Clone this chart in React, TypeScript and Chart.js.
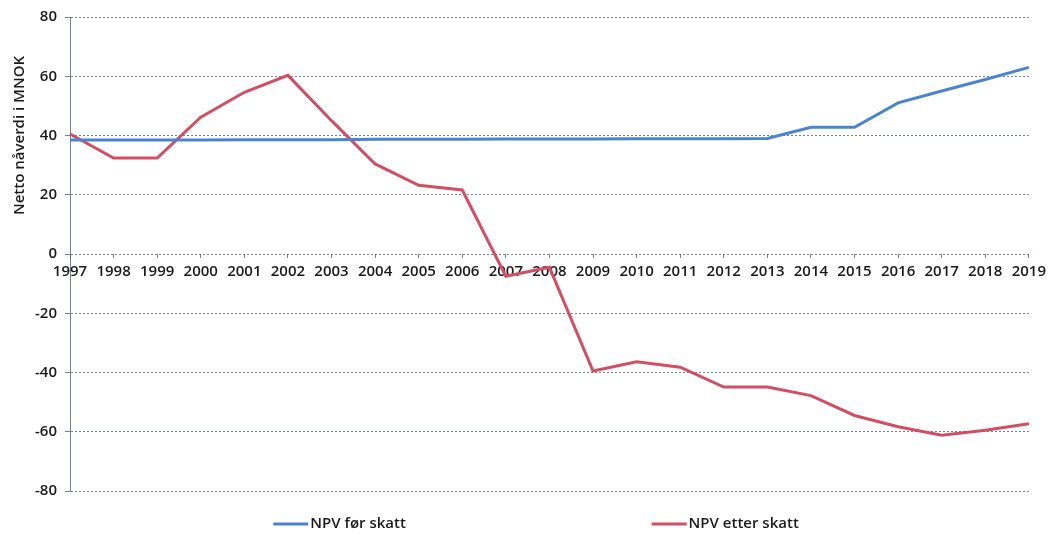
import React, { useEffect, useRef } from "react";
import { Chart, registerables } from "chart.js";

Chart.register(...registerables);

// Years on the category axis
const years: string[] = [
  "1997", "1998", "1999", "2000", "2001", "2002", "2003", "2004", "2005", "2006", "2007", "2008",
  "2009", "2010", "2011", "2012", "2013", "2014", "2015", "2016", "2017", "2018", "2019",
];

// Net present value before tax (MNOK)
const npvForSkatt: number[] = [
  38.5, 38.5, 38.5, 38.5, 38.6, 38.6, 38.6, 38.7, 38.7, 38.7, 38.8, 38.8,
  38.8, 38.9, 38.9, 38.9, 39.0, 42.8, 42.8, 51.0, 55.0, 58.9, 63.0,
];

// Net present value after tax (MNOK)
const npvEtterSkatt: number[] = [
  40.5, 32.4, 32.4, 46.2, 54.6, 60.3, 45.0, 30.4, 23.2, 21.6, -7.5, -4.5,
  -39.5, -36.4, -38.2, -44.9, -44.9, -47.8, -54.5, -58.3, -61.2, -59.5, -57.3,
];

const seriesLabels: string[] = ["NPV før skatt", "NPV etter skatt"];
const seriesColors: string[] = ["#4a84cc", "#d04f63"];

const yAxisTitle = "Netto nåverdi i MNOK";
const yMin = -80;
const yMax = 80;
const yStep = 20;

const FONT = "'Open Sans', 'Noto Sans', sans-serif";
const TEXT = "#1a1a1a";
const GRID = "rgba(85, 95, 120, 0.8)";

// Rotated axis title, placed in the upper part of the left margin
const yTitlePlugin = {
  id: "yTitle",
  afterDraw(chart: any) {
    const { ctx, chartArea } = chart;
    ctx.save();
    ctx.translate(20, chartArea.top + (chartArea.bottom - chartArea.top) * 0.25);
    ctx.rotate(-Math.PI / 2);
    ctx.font = `600 15px ${FONT}`;
    ctx.fillStyle = TEXT;
    ctx.textAlign = "center";
    ctx.textBaseline = "middle";
    ctx.fillText(yAxisTitle, 0, 0);
    ctx.restore();
  },
};

// Widely spaced legend below the plot
const spacedLegendPlugin = {
  id: "spacedLegend",
  afterDraw(chart: any) {
    const { ctx, width, height } = chart;
    const starts = [0.26, 0.62];
    const y = height - 11;
    ctx.save();
    chart.data.datasets.forEach((ds: any, i: number) => {
      const x = width * starts[i];
      ctx.strokeStyle = ds.borderColor;
      ctx.lineWidth = 3;
      ctx.beginPath();
      ctx.moveTo(x, y);
      ctx.lineTo(x + 35, y);
      ctx.stroke();
      ctx.font = `600 15px ${FONT}`;
      ctx.fillStyle = TEXT;
      ctx.textAlign = "left";
      ctx.textBaseline = "middle";
      ctx.fillText(ds.label, x + 37, y);
    });
    ctx.restore();
  },
};

export default function App() {
  const canvasRef = useRef<HTMLCanvasElement | null>(null);

  useEffect(() => {
    document.body.style.margin = "0";
    const canvas = canvasRef.current;
    if (!canvas) return;

    const chart = new Chart(canvas, {
      type: "line",
      data: {
        labels: years,
        datasets: [
          {
            label: seriesLabels[0],
            data: npvForSkatt,
            borderColor: seriesColors[0],
            backgroundColor: seriesColors[0],
            borderWidth: 3,
            pointRadius: 0,
            tension: 0,
          },
          {
            label: seriesLabels[1],
            data: npvEtterSkatt,
            borderColor: seriesColors[1],
            backgroundColor: seriesColors[1],
            borderWidth: 3,
            pointRadius: 0,
            tension: 0,
          },
        ],
      },
      options: {
        responsive: false,
        animation: false,
        layout: { padding: { left: 0, right: 21, top: 13, bottom: 44 } },
        plugins: {
          legend: { display: false },
          tooltip: { enabled: false },
        },
        scales: {
          x: {
            type: "category",
            offset: false,
            position: { y: 0 } as any,
            grid: {
              display: true,
              drawOnChartArea: false,
              drawTicks: true,
              tickLength: 4,
              color: GRID,
            },
            border: { display: false },
            ticks: {
              autoSkip: false,
              maxRotation: 0,
              padding: 5,
              color: TEXT,
              font: { family: FONT, size: 15, weight: 600 } as any,
            },
          },
          y: {
            min: yMin,
            max: yMax,
            afterFit(scale: any) {
              scale.width = 70;
            },
            grid: {
              color: GRID,
              lineWidth: 1,
              tickLength: 5,
              drawTicks: true,
            },
            border: { display: true, color: GRID, dash: [2, 2] },
            ticks: {
              stepSize: yStep,
              padding: 8,
              color: TEXT,
              font: { family: FONT, size: 15, weight: 600 } as any,
            },
          },
        },
      },
      plugins: [yTitlePlugin, spacedLegendPlugin],
    });

    // dashed horizontal grid lines
    (chart.options.scales as any).y.grid.borderDash = [2, 2];
    chart.update();

    return () => chart.destroy();
  }, []);

  return (
    <div style={{ width: 1051, height: 535 }}>
      <canvas ref={canvasRef} width={1051} height={535} />
    </div>
  );
}
